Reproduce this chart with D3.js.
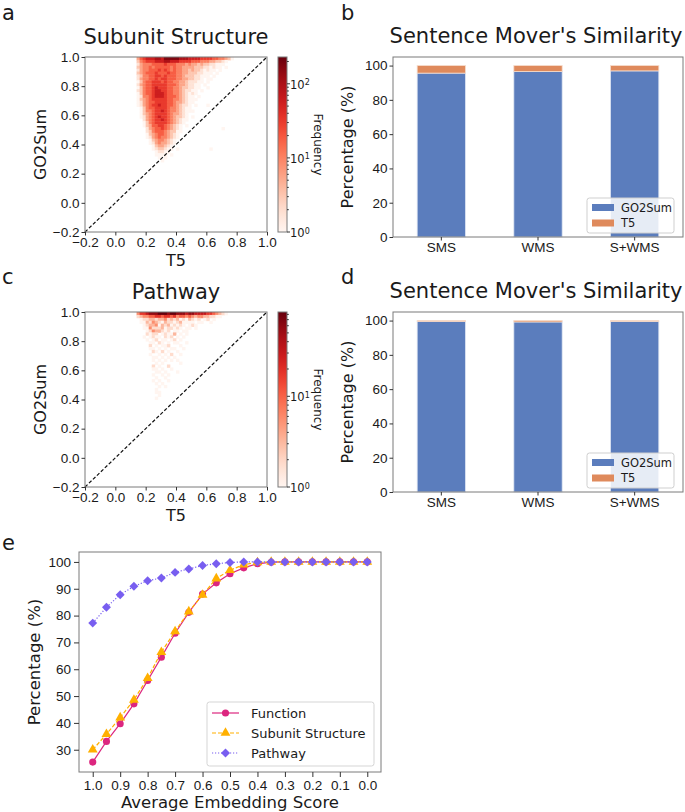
<!DOCTYPE html>
<html>
<head>
<meta charset="utf-8">
<script src="https://cdn.jsdelivr.net/npm/d3@7"></script>
<style>
  body { margin: 0; background: #fff; }
  svg { font-family: "DejaVu Sans", sans-serif; }
  svg text { fill: #1a1a1a; }
</style>
</head>
<body>
<svg id="fig" width="685" height="812"></svg>
<script>
// ---- data ----

// 2D histograms (T5 vs GO2Sum), bins of 0.02 starting at T5 = 0.10, rows from GO2Sum = 1.0 downwards.
const subunitRows = [
  "00467888998aaaaa9998888777766554310",
  "00356777888998887777666555443321000",
  "00245556666766655545443433221110000",
  "00345565666665655444433322121101000",
  "00245566676765655443433212110100000",
  "00345666766676655443332211101000000",
  "00235566776766655433322111010000000",
  "00245566767766655443322101100000000",
  "00135667776766554432221101000000000",
  "00245667777766654432211010000000000",
  "00135667877766554332211001000000000",
  "00235667887766554322110100000000000",
  "00135667888766554321210000000000000",
  "00125567888766654321101000000000000",
  "00134567777766554321110000000000000",
  "00124566777766544321100000000000000",
  "00124567787766543221010001000000000",
  "00013566777765543211000000000000000",
  "00013556778765543211100000000000000",
  "00013456777765443210000000000000000",
  "00012456787765433210100000000000000",
  "00002456778765432110000000000000000",
  "00001356777765432100000000000000000",
  "00001346677654321010000000000000000",
  "00000245667654321000000000000010000",
  "00000235666543311000000000000000000",
  "00000134566543210000000000000000000",
  "00000124565543210000000000000000000",
  "00000013455432100000000000000000000",
  "00000012454432100000000000000000000",
  "00000001344321000000000000000000000",
  "00000001233211010000000000100000000",
  "00000000122110000000000000000000000",
  "00000000111101000000000000000000000",
  "00000000010100000000000000000000000",
  "00000000001000000000000000000000000"
];
const pathwayRows = [
  "00466788899989988878877776654321000",
  "00234455665665645545434433221100000",
  "00012233233423231213212012010000000",
  "00011324321322123111101100100000000",
  "00001233413231212101210000000000000",
  "00001142223122121011010000000000000",
  "00000124332120110110000000000000000",
  "00000212201211301010000000000000000",
  "00001012110212010100000000000000000",
  "00000101201101201000000000000000000",
  "00000011021010110010000000000000000",
  "00000020101120001000000000000000000",
  "00000011010101100100000000000000000",
  "00000002102010010000000000000000000",
  "00000010010102001000000000000000000",
  "00000001101010100000000000000000000",
  "00000001010101010000000000000000000",
  "00000000101000001000000000000000000",
  "00000002010020000000000000000000000",
  "00000001101001000000000000000000000",
  "00000000110100010000000000000000000",
  "00000001001010000000000000000000000",
  "00000000100100000000000000000000000",
  "00000001010010000000000000000000000",
  "00000000101000000000000000000000000",
  "00000000010100000000000000000000000",
  "00000000100000000000000000000000000",
  "00000000110000000000000000000000000",
  "00000000010000000000000000000000000",
  "00000000100000000000000000000000000"
];
const subunitMaxFreq = 230;
const pathwayMaxFreq = 85;

// stacked bars, Sentence Mover's Similarity
const methods = ["SMS", "WMS", "S+WMS"];
const subunitGo2Sum = [95.6, 96.5, 96.9];
const subunitT5 = [4.4, 3.5, 3.1];
const pathwayGo2Sum = [99.4, 99.2, 99.5];
const pathwayT5 = [0.6, 0.8, 0.5];

// panel e
const scores = [1.0, 0.95, 0.9, 0.85, 0.8, 0.75, 0.7, 0.65, 0.6, 0.55, 0.5,
                0.45, 0.4, 0.35, 0.3, 0.25, 0.2, 0.15, 0.1, 0.05, 0.0];
const functionPct = [25.4, 33.1, 39.7, 47.1, 55.8, 64.5, 73.4, 81.2, 88.0, 92.2, 95.6,
                     97.8, 99.3, 99.9, 100, 100, 100, 100, 100, 100, 100];
const subunitPct = [30.0, 35.8, 42.0, 48.6, 56.7, 66.4, 74.1, 81.5, 87.7, 93.8, 96.9,
                    99.0, 99.8, 100, 100, 100, 100, 100, 100, 100, 100];
const pathwayPct = [77.2, 83.1, 87.8, 90.9, 93.0, 94.0, 96.1, 97.4, 98.7, 99.3, 99.8,
                    100, 100, 100, 100, 100, 100, 100, 100, 100, 100];
const scoreTicks = [1.0, 0.9, 0.8, 0.7, 0.6, 0.5, 0.4, 0.3, 0.2, 0.1, 0.0];

// ---- drawing ----
const svg = d3.select('#fig');
const spine = '#7a7a7a';
const binStart = 0.10, binW = 0.02;

function panelLetter(txt, x, y) {
  svg.append('text').attr('x', x).attr('y', y)
     .style('font-size', '21px').text(txt);
}

function styleAxis(g) {
  g.select('.domain').remove();
  g.selectAll('.tick line').attr('stroke', '#333');
  g.selectAll('.tick text').style('font-size', '13.5px').attr('fill', '#222');
}

function frame(l, t, w, h) {
  svg.append('rect').attr('x', l).attr('y', t).attr('width', w).attr('height', h)
     .attr('fill', 'none').attr('stroke', spine).attr('stroke-width', 1);
}

function heatmap(rows, vmax, box, title) {
  const { left, top, width, height } = box;
  const x = d3.scaleLinear().domain([-0.2, 1]).range([left, left + width]);
  const y = d3.scaleLinear().domain([-0.2, 1]).range([top + height, top]);
  const color = d3.scaleSequentialLog(d3.interpolateReds).domain([1, vmax]);

  const cells = [];
  rows.forEach((row, r) => {
    row.split('').forEach((ch, c) => {
      const lvl = parseInt(ch, 36);
      if (lvl > 0) cells.push({ x0: binStart + c * binW, y1: 1 - r * binW, f: Math.pow(10, (lvl - 1) / 4) });
    });
  });

  svg.append('g').selectAll('rect').data(cells).enter().append('rect')
     .attr('x', d => x(d.x0))
     .attr('y', d => y(d.y1))
     .attr('width', d => x(d.x0 + binW) - x(d.x0) + 0.4)
     .attr('height', d => y(d.y1 - binW) - y(d.y1) + 0.4)
     .attr('fill', d => color(Math.min(d.f, vmax)));

  svg.append('line')
     .attr('x1', x(-0.2)).attr('y1', y(-0.2)).attr('x2', x(1)).attr('y2', y(1))
     .attr('stroke', '#111').attr('stroke-width', 1.2).attr('stroke-dasharray', '3.5,2');

  frame(left, top, width, height);

  const ticks = [-0.2, 0.0, 0.2, 0.4, 0.6, 0.8, 1.0];
  const fmt = d => d < 0 ? '\u2212' + Math.abs(d).toFixed(1) : d.toFixed(1);
  svg.append('g').attr('transform', `translate(0,${top + height})`)
     .call(d3.axisBottom(x).tickValues(ticks).tickFormat(fmt).tickSize(3.5).tickPadding(2))
     .call(styleAxis);
  svg.append('g').attr('transform', `translate(${left},0)`)
     .call(d3.axisLeft(y).tickValues(ticks).tickFormat(fmt).tickSize(3.5).tickPadding(2))
     .call(styleAxis);

  svg.append('text').attr('x', left + width / 2).attr('y', top - 13)
     .style('text-anchor', 'middle').style('font-size', '21px').text(title);
  svg.append('text').attr('x', left + width / 2).attr('y', top + height + 34)
     .style('text-anchor', 'middle').style('font-size', '16px').text('T5');
  svg.append('text')
     .attr('transform', `translate(${left - 39},${top + height / 2}) rotate(-90)`)
     .style('text-anchor', 'middle').style('font-size', '16px').text('GO2Sum');

  // colour bar
  const cbL = left + width + 11, cbW = 9;
  const cy = d3.scaleLog().domain([1, vmax]).range([top + height, top]);
  const gid = 'grad' + vmax;
  const grad = svg.append('defs').append('linearGradient').attr('id', gid)
                  .attr('x1', 0).attr('y1', 1).attr('x2', 0).attr('y2', 0);
  d3.range(0, 1.0001, 0.05).forEach(t => {
    grad.append('stop').attr('offset', t)
        .attr('stop-color', color(Math.pow(vmax, t)));
  });
  svg.append('rect').attr('x', cbL).attr('y', top).attr('width', cbW).attr('height', height)
     .attr('fill', `url(#${gid})`).attr('stroke', spine).attr('stroke-width', 1);

  const minor = [];
  [1, 10, 100].forEach(dec => {
    for (let k = 2; k <= 9; k++) if (dec * k < vmax) minor.push(dec * k);
  });
  svg.append('g').selectAll('line').data(minor).enter().append('line')
     .attr('x1', cbL + cbW).attr('x2', cbL + cbW + 1.8)
     .attr('y1', d => cy(d)).attr('y2', d => cy(d)).attr('stroke', '#333');
  const major = [1, 10, 100].filter(v => v <= vmax);
  const mg = svg.append('g').selectAll('g').data(major).enter().append('g')
                .attr('transform', d => `translate(${cbL + cbW},${cy(d)})`);
  mg.append('line').attr('x2', 3).attr('stroke', '#333');
  const mt = mg.append('text').attr('x', 3).attr('dy', '0.45em').style('font-size', '11.5px');
  mt.append('tspan').text('10');
  mt.append('tspan').attr('dy', '-0.45em').style('font-size', '8px')
    .text(d => String(Math.round(Math.log10(d))));

  svg.append('text')
     .attr('transform', `translate(${cbL + cbW + 27},${top + height / 2}) rotate(90)`)
     .style('text-anchor', 'middle').style('font-size', '12px').text('Frequency');
}

function stacked(go2, t5, box) {
  const { left, top, width, height } = box;
  const x = d3.scaleBand().domain(methods).range([left, left + width])
              .paddingInner(0.5).paddingOuter(0.25);
  const y = d3.scaleLinear().domain([0, 105]).range([top + height, top]);
  const rows = methods.map((m, i) => ({ m, go2: go2[i], t5: t5[i] }));

  svg.append('g').selectAll('rect').data(rows).enter().append('rect')
     .attr('x', d => x(d.m)).attr('width', x.bandwidth())
     .attr('y', d => y(d.go2)).attr('height', d => y(0) - y(d.go2))
     .attr('fill', '#5b7dbd').attr('stroke', '#dfe6f3').attr('stroke-width', 0.8);
  svg.append('g').selectAll('rect').data(rows).enter().append('rect')
     .attr('x', d => x(d.m)).attr('width', x.bandwidth())
     .attr('y', d => y(d.go2 + d.t5)).attr('height', d => y(d.go2) - y(d.go2 + d.t5))
     .attr('fill', '#df8a5c').attr('stroke', '#f6dccd').attr('stroke-width', 0.8);

  frame(left, top, width, height);

  svg.append('g').attr('transform', `translate(0,${top + height})`)
     .call(d3.axisBottom(x).tickSize(3.5).tickPadding(2)).call(styleAxis);
  svg.append('g').attr('transform', `translate(${left},0)`)
     .call(d3.axisLeft(y).tickValues([0, 20, 40, 60, 80, 100]).tickSize(3.5).tickPadding(2))
     .call(styleAxis);

  svg.append('text').attr('x', left + width / 2 - 2).attr('y', top - 14)
     .style('text-anchor', 'middle').style('font-size', '21px').text("Sentence Mover's Similarity");
  svg.append('text')
     .attr('transform', `translate(${left - 40},${top + height / 2}) rotate(-90)`)
     .style('text-anchor', 'middle').style('font-size', '16px').text('Percentage (%)');

  // legend
  const lx = left + width - 96, ly = top + height - 39;
  svg.append('rect').attr('x', lx).attr('y', ly).attr('width', 87).attr('height', 35)
     .attr('rx', 2.5).attr('fill', '#fff').attr('fill-opacity', 0.85)
     .attr('stroke', '#cfcfcf');
  [['GO2Sum', '#5b7dbd'], ['T5', '#df8a5c']].forEach((e, i) => {
    svg.append('rect').attr('x', lx + 5).attr('y', ly + 6 + i * 15.5)
       .attr('width', 22).attr('height', 7).attr('fill', e[1]);
    svg.append('text').attr('x', lx + 34).attr('y', ly + 13.5 + i * 15.5)
       .style('font-size', '11.5px').text(e[0]);
  });
}

heatmap(subunitRows, subunitMaxFreq, { left: 85, top: 57, width: 182, height: 175 }, 'Subunit Structure');
heatmap(pathwayRows, pathwayMaxFreq, { left: 85, top: 312, width: 182, height: 175 }, 'Pathway');
stacked(subunitGo2Sum, subunitT5, { left: 393, top: 57, width: 290, height: 180 });
stacked(pathwayGo2Sum, pathwayT5, { left: 393, top: 312, width: 290, height: 180 });

panelLetter('a', 2, 20);
panelLetter('b', 341, 20);
panelLetter('c', 2, 284);
panelLetter('d', 341, 284);
panelLetter('e', 2, 550);

// ---- panel e ----
const eBox = { left: 79, top: 552, width: 302, height: 220 };
const ex = d3.scaleLinear().domain([1.05, -0.05]).range([eBox.left, eBox.left + eBox.width]);
const ey = d3.scaleLinear().domain([21.7, 103.7]).range([eBox.top + eBox.height, eBox.top]);

frame(eBox.left, eBox.top, eBox.width, eBox.height);
svg.append('g').attr('transform', `translate(0,${eBox.top + eBox.height})`)
   .call(d3.axisBottom(ex).tickValues(scoreTicks).tickFormat(d3.format('.1f')).tickSize(5).tickPadding(3))
   .call(styleAxis);
svg.append('g').attr('transform', `translate(${eBox.left},0)`)
   .call(d3.axisLeft(ey).tickValues([30, 40, 50, 60, 70, 80, 90, 100]).tickSize(5).tickPadding(3))
   .call(styleAxis);

svg.append('text').attr('x', eBox.left + eBox.width / 2).attr('y', 808)
   .style('text-anchor', 'middle').style('font-size', '16.5px').text('Average Embedding Score');
svg.append('text')
   .attr('transform', `translate(40,${eBox.top + eBox.height / 2}) rotate(-90)`)
   .style('text-anchor', 'middle').style('font-size', '16.5px').text('Percentage (%)');

const series = [
  { name: 'Function', vals: functionPct, color: '#DC267F', dash: null, sym: d3.symbolCircle, size: 40, rot: 0 },
  { name: 'Subunit Structure', vals: subunitPct, color: '#FFB000', dash: '4,2', sym: d3.symbolTriangle, size: 42, rot: 0 },
  { name: 'Pathway', vals: pathwayPct, color: '#785EF0', dash: '1.2,1.8', sym: d3.symbolSquare, size: 40, rot: 45 }
];
const line = d3.line().x(d => ex(d[0])).y(d => ey(d[1]));

series.forEach(s => {
  const pts = scores.map((sc, i) => [sc, s.vals[i]]);
  svg.append('path').datum(pts).attr('d', line)
     .attr('fill', 'none').attr('stroke', s.color).attr('stroke-width', 1.2)
     .attr('stroke-dasharray', s.dash);
  svg.append('g').selectAll('path').data(pts).enter().append('path')
     .attr('d', d3.symbol().type(s.sym).size(s.size))
     .attr('transform', d => `translate(${ex(d[0])},${ey(d[1])}) rotate(${s.rot})`)
     .attr('fill', s.color);
});

// legend e
const elx = 207, ely = 702;
svg.append('rect').attr('x', elx).attr('y', ely).attr('width', 167).attr('height', 64)
   .attr('rx', 2.5).attr('fill', '#fff').attr('fill-opacity', 0.85).attr('stroke', '#d5d5d5');
series.forEach((s, i) => {
  const yy = ely + 11 + i * 20;
  svg.append('line').attr('x1', elx + 5).attr('x2', elx + 32).attr('y1', yy).attr('y2', yy)
     .attr('stroke', s.color).attr('stroke-width', 1.2).attr('stroke-dasharray', s.dash);
  svg.append('path').attr('d', d3.symbol().type(s.sym).size(s.size))
     .attr('transform', `translate(${elx + 18.5},${yy}) rotate(${s.rot})`).attr('fill', s.color);
  svg.append('text').attr('x', elx + 44).attr('y', yy + 5)
     .style('font-size', '13px').text(s.name);
});
</script>
</body>
</html>
